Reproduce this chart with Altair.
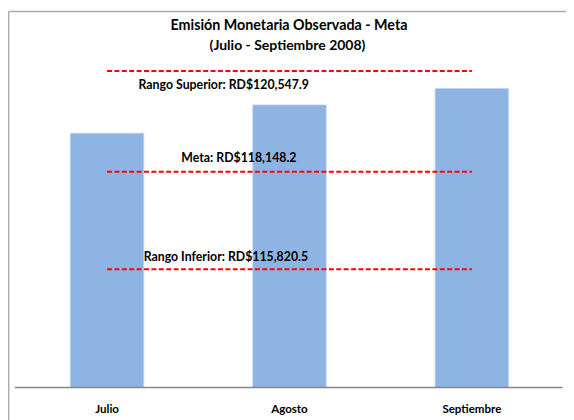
import altair as alt
import pandas as pd

# ---- data ----
months = ["Julio", "Agosto", "Septiembre"]
emision = [119067, 119742, 120133]

level_names = ["Rango Superior", "Meta", "Rango Inferior"]
level_values = [120547.9, 118148.2, 115820.5]

title_lines = ["Emisión Monetaria Observada - Meta", "(Julio - Septiembre 2008)"]

Y_MIN = 113000
Y_MAX = 121960

FONT = "Lato"
W, H = 555, 381

bars_df = pd.DataFrame({"mes": months, "valor": emision})
lines_df = pd.DataFrame(
    [{"nivel": n, "mes": m, "valor": v}
     for n, v in zip(level_names, level_values)
     for m in (months[0], months[-1])]
)

x_enc = alt.X("mes:N", sort=months,
              scale=alt.Scale(paddingInner=0, paddingOuter=0),
              axis=alt.Axis(title=None, domain=False, ticks=False, labelAngle=0,
                            labelPadding=16, labelFont=FONT, labelFontSize=11.7,
                            labelFontWeight="bold", labelColor="#000000"))
y_scale = alt.Scale(domain=[Y_MIN, Y_MAX], zero=False, nice=False)

bars = alt.Chart(bars_df).mark_bar(size=74.5, color="#8EB4E3", stroke="#C0D4EE", strokeWidth=0.8).encode(
    x=x_enc,
    y=alt.Y("valor:Q", scale=y_scale, axis=None),
    y2=alt.datum(Y_MIN),
)

lines = alt.Chart(lines_df).mark_line(color="#FF0000", strokeWidth=2, strokeDash=[5, 2.5]).encode(
    x=alt.X("mes:N", sort=months),
    y=alt.Y("valor:Q", scale=y_scale),
    detail="nivel:N",
)

def label(i, xpix, dy):
    txt = f"{level_names[i]}: RD${level_values[i]:,.1f}"
    return alt.Chart().mark_text(font=FONT, fontSize=12.5, fontWeight="bold",
                                 color="#000000", dy=dy).encode(
        x=alt.value(xpix), y=alt.datum(level_values[i]), text=alt.value(txt))

lab_sup = label(0, 210.8, 14.3)
lab_meta = label(1, 226.2, -14)
lab_inf = label(2, 213, -12)

t1 = alt.Chart().mark_text(font=FONT, fontSize=14.5, fontWeight="bold", color="#000000").encode(
    x=alt.value(277), y=alt.value(14.3), text=alt.value(title_lines[0]))
t2 = alt.Chart().mark_text(font=FONT, fontSize=14.2, fontWeight="bold", color="#000000").encode(
    x=alt.value(275.5), y=alt.value(34.3), text=alt.value(title_lines[1]))

axis_line = alt.Chart().mark_rule(color="#868686", strokeWidth=1.5).encode(
    x=alt.value(-1), x2=alt.value(554.5), y=alt.value(H))

border_top = alt.Chart().mark_rule(color="#ABABAB", strokeWidth=1.5).encode(
    x=alt.value(-7.5), x2=alt.value(570), y=alt.value(-0.3))
border_left = alt.Chart().mark_rule(color="#ABABAB", strokeWidth=1.5).encode(
    x=alt.value(-7.3), y=alt.value(-0.3), y2=alt.value(430))

chart = alt.layer(
    bars, lines, axis_line, lab_sup, lab_meta, lab_inf, t1, t2, border_top, border_left
).properties(
    width=W, height=H,
    padding={"left": 8, "top": 1, "right": 3, "bottom": 30},
    autosize=alt.AutoSizeParams(type="none"),
    background="#FFFFFF",
).configure_view(stroke=None)

chart.save("out.html", embed_options={"renderer": "svg", "actions": False})
